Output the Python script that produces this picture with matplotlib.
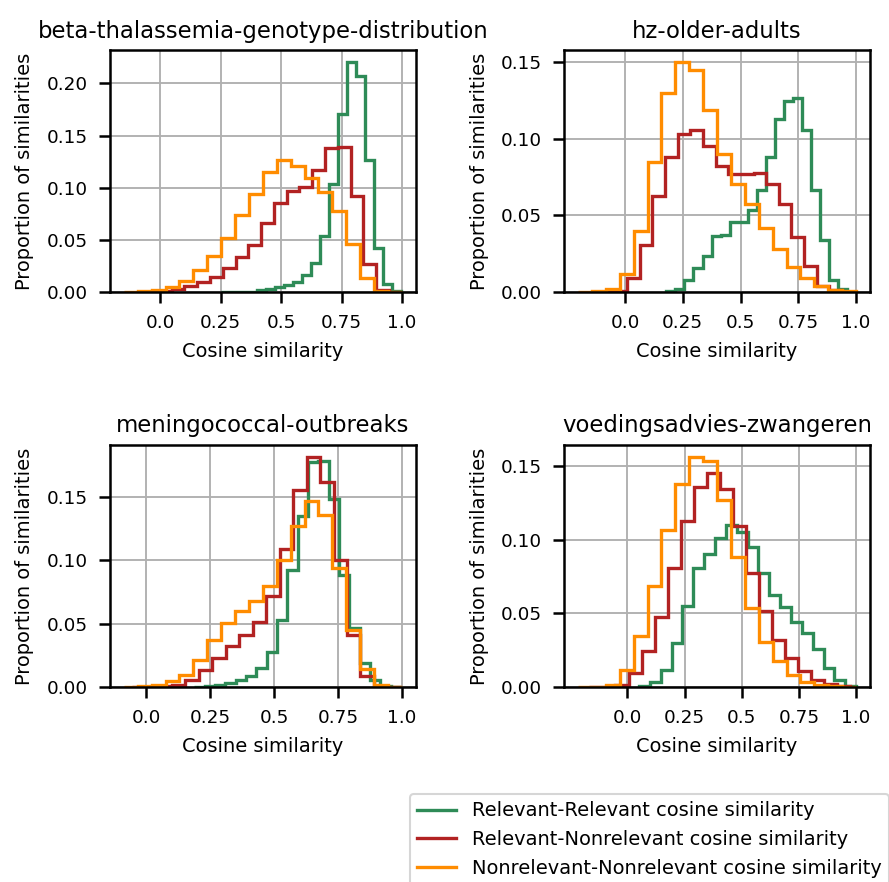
import numpy as np
import matplotlib
matplotlib.use("Agg")
import matplotlib.pyplot as plt

# topic titles, one per panel
titles = ["beta-thalassemia-genotype-distribution", "hz-older-adults",
          "meningococcal-outbreaks", "voedingsadvies-zwangeren"]

series_labels = ["Relevant-Relevant cosine similarity",
                 "Relevant-Nonrelevant cosine similarity",
                 "Nonrelevant-Nonrelevant cosine similarity"]
series_colors = ["#2e8b57", "#b22222", "#ff8c00"]

# range (min, max) of each histogram: [green, red, orange] per panel
ranges = [
    [(0.253, 0.997), (-0.059, 0.999), (-0.151, 1.0)],
    [(0.179, 0.962), (-0.100, 0.994), (-0.203, 1.0)],
    [(0.188, 0.995), (-0.057, 0.995), (-0.087, 0.999)],
    [(0.051, 1.0), (-0.166, 0.972), (-0.216, 1.0)],
]

# proportion of similarities in each of the 20 bins
rr_beta = [0.0001, 0.0002, 0.0003, 0.0005, 0.0016, 0.003, 0.0045, 0.007, 0.010, 0.0166,
           0.028, 0.054, 0.104, 0.171, 0.221, 0.207, 0.127, 0.042, 0.0077, 0.001]
rn_beta = [0.0003, 0.001, 0.003, 0.0055, 0.0096, 0.0144, 0.023, 0.034, 0.045, 0.066,
           0.085, 0.097, 0.101, 0.117, 0.138, 0.139, 0.0925, 0.027, 0.002, 0.0005]
nn_beta = [0.0005, 0.001, 0.002, 0.0045, 0.011, 0.021, 0.035, 0.052, 0.074, 0.094,
           0.115, 0.127, 0.121, 0.109, 0.096, 0.078, 0.046, 0.013, 0.001, 0.0003]

rr_hz = [0.0004, 0.002, 0.0076, 0.0157, 0.0237, 0.0364, 0.037, 0.0455, 0.0455, 0.0533,
         0.0664, 0.0882, 0.113, 0.125, 0.1265, 0.106, 0.0668, 0.0342, 0.008, 0.002]
rn_hz = [0.0002, 0.0005, 0.0091, 0.0309, 0.0629, 0.0882, 0.1034, 0.106, 0.0956, 0.0825,
         0.0771, 0.0771, 0.0777, 0.0705, 0.0575, 0.0357, 0.0168, 0.0037, 0.0011, 0.0003]
nn_hz = [0.0003, 0.0005, 0.0022, 0.012, 0.0396, 0.0847, 0.130, 0.1506, 0.145, 0.1187,
         0.090, 0.0707, 0.0575, 0.0418, 0.0281, 0.0161, 0.0089, 0.0037, 0.0015, 0.0004]

rr_men = [0.0003, 0.0008, 0.0016, 0.0031, 0.0052, 0.0084, 0.0149, 0.0275, 0.053, 0.0923,
          0.1348, 0.1775, 0.1788, 0.1487, 0.0884, 0.0464, 0.0189, 0.0052, 0.001, 0.0002]
rn_men = [0.0001, 0.0003, 0.0005, 0.0018, 0.0058, 0.0136, 0.0228, 0.0325, 0.0412, 0.0517,
          0.0718, 0.1093, 0.1557, 0.182, 0.1618, 0.1002, 0.0412, 0.0084, 0.0005, 0.0002]
nn_men = [0.0002, 0.0005, 0.0013, 0.0045, 0.0097, 0.021, 0.0372, 0.0509, 0.0603, 0.0679,
          0.0797, 0.1002, 0.1269, 0.1468, 0.1356, 0.0941, 0.0451, 0.0142, 0.0013, 0.0003]

rr_voed = [0.0005, 0.0032, 0.0117, 0.0297, 0.0552, 0.0804, 0.0905, 0.1013, 0.1097, 0.1052,
           0.095, 0.077, 0.0624, 0.0545, 0.0444, 0.0365, 0.0257, 0.0128, 0.0045, 0.0005]
rn_voed = [0.0001, 0.0003, 0.0011, 0.0095, 0.0241, 0.0477, 0.0804, 0.1124, 0.1356, 0.1453,
           0.1344, 0.109, 0.0775, 0.0516, 0.032, 0.0196, 0.0106, 0.005, 0.002, 0.0005]
nn_voed = [0.0001, 0.0003, 0.0016, 0.0113, 0.0347, 0.0687, 0.1063, 0.1378, 0.1563, 0.1531,
           0.1266, 0.0883, 0.0534, 0.0304, 0.0173, 0.0083, 0.0034, 0.0011, 0.0004, 0.0001]

panel_values = [
    [rr_beta, rn_beta, nn_beta],
    [rr_hz, rn_hz, nn_hz],
    [rr_men, rn_men, nn_men],
    [rr_voed, rn_voed, nn_voed],
]

xtick_vals = [0.0, 0.25, 0.5, 0.75, 1.0]
xtick_labels = ["0.0", "0.25", "0.5", "0.75", "1.0"]

fig, axes = plt.subplots(2, 2, figsize=(889 / 150, 882 / 150), dpi=150)
fig.subplots_adjust(left=0.1237, right=0.9786, top=0.9433, bottom=0.2211,
                    wspace=0.485, hspace=0.632)

for ax, title, vals, rng in zip(axes.flat, titles, panel_values, ranges):
    for heights, (lo, hi), color, label in zip(vals, rng, series_colors, series_labels):
        edges = np.linspace(lo, hi, len(heights) + 1)
        ax.stairs(heights, edges, color=color, linewidth=1.6, label=label)
    ax.set_title(title, fontsize=10.9)
    ax.set_xlabel("Cosine similarity", fontsize=9.3, labelpad=5)
    ax.set_ylabel("Proportion of similarities", fontsize=9.3, labelpad=6)
    ax.set_xticks(xtick_vals)
    ax.set_xticklabels(xtick_labels)
    ax.tick_params(labelsize=8.8, length=5.5, width=1.2, pad=5)
    ax.grid(True, color="#b0b0b0", linewidth=0.9)
    ax.set_axisbelow(True)
    for sp in ax.spines.values():
        sp.set_linewidth(1.2)

line_handles = [plt.Line2D([], [], color=c, linewidth=1.6) for c in series_colors]
fig.legend(line_handles, series_labels, loc="upper left",
           bbox_to_anchor=(400 / 889, 1 - 784 / 882), fontsize=9.3)

fig.savefig("out.png", dpi=150)
